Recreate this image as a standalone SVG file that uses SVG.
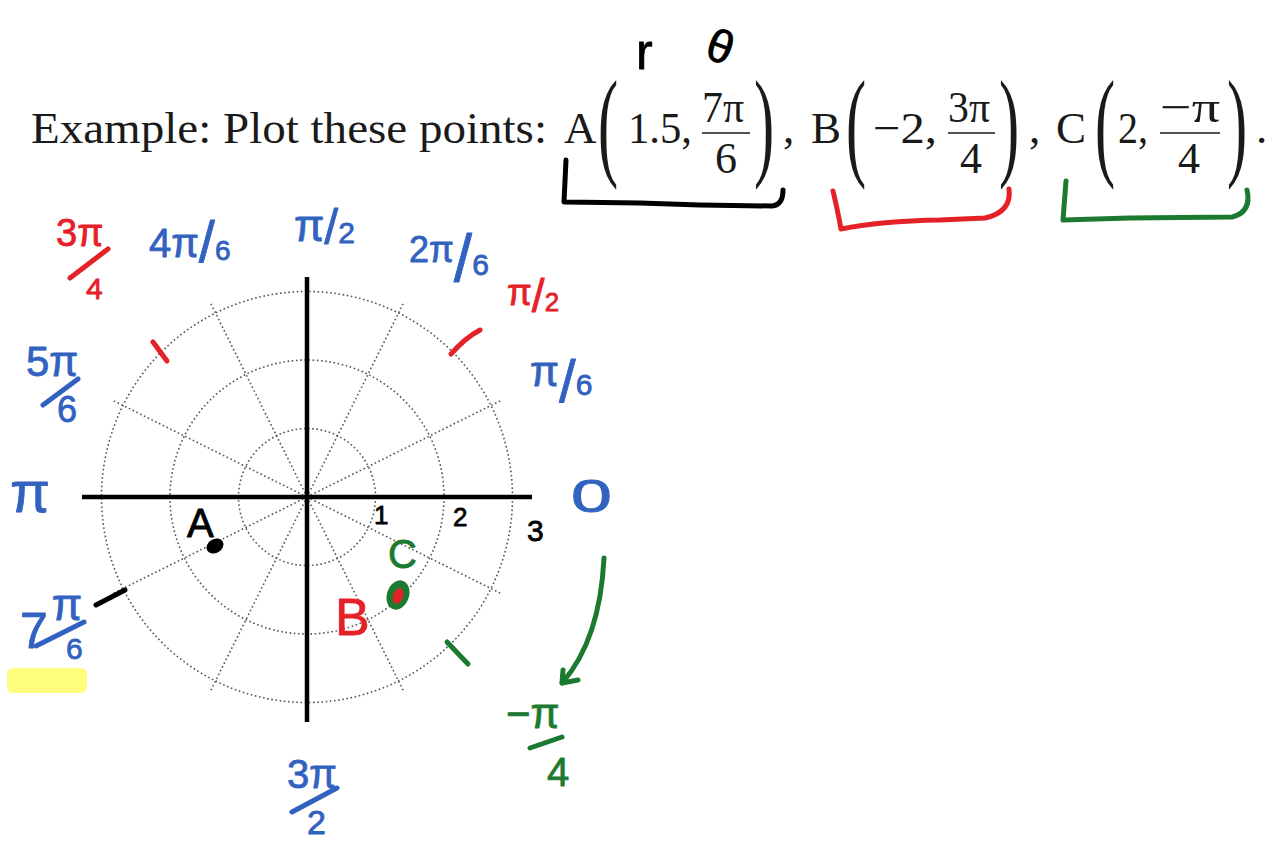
<svg xmlns="http://www.w3.org/2000/svg" width="1277" height="843" viewBox="0 0 1277 843">
<style>
.tx{font-family:"Liberation Serif",serif;fill:#1a1a1a}
.grid{fill:none;stroke:#555;stroke-width:1.6;stroke-dasharray:1.6 2.6}
.axis{stroke:#000;stroke-width:4.5;fill:none}
.hw{font-family:"Liberation Sans",sans-serif;stroke-width:0.8;stroke-linejoin:round}
.blue{fill:#3262c0;stroke:#3262c0}
.red{fill:#e52128;stroke:#e52128}
.green{fill:#1c7a30;stroke:#1c7a30}
.black{fill:#000;stroke:#000}
.pen{fill:none;stroke-width:5;stroke-linecap:round;stroke-linejoin:round}
.pb{stroke:#3262c0}.pr{stroke:#e52128}.pg{stroke:#1c7a30}.pk{stroke:#000}
.bar{stroke:#1a1a1a;stroke-width:1.7}
</style>
<rect width="1277" height="843" fill="#fff"/>

<g id="header">
<text class="tx" x="31" y="143" font-size="45" textLength="516" lengthAdjust="spacingAndGlyphs">Example: Plot these points:</text>
<text class="tx" x="564" y="143" font-size="45">A</text>
<text class="tx" transform="translate(598,164) scale(0.5,1)" font-size="121">(</text>
<text class="tx" x="628" y="143" font-size="45" textLength="64" lengthAdjust="spacingAndGlyphs">1.5,</text>
<text class="tx" x="702" y="122" font-size="44" textLength="42" lengthAdjust="spacingAndGlyphs">7π</text>
<line class="bar" x1="702" y1="133" x2="750" y2="133"/>
<text class="tx" x="715" y="173" font-size="44">6</text>
<text class="tx" transform="translate(754,164) scale(0.5,1)" font-size="121">)</text>
<text class="tx" x="783" y="143" font-size="45">,</text>
<text class="tx" x="811" y="143" font-size="45">B</text>
<text class="tx" transform="translate(846,164) scale(0.5,1)" font-size="121">(</text>
<text class="tx" x="873" y="143" font-size="45" textLength="64" lengthAdjust="spacingAndGlyphs">−2,</text>
<text class="tx" x="948" y="122" font-size="44" textLength="42" lengthAdjust="spacingAndGlyphs">3π</text>
<line class="bar" x1="948" y1="133" x2="995" y2="133"/>
<text class="tx" x="960" y="173" font-size="44">4</text>
<text class="tx" transform="translate(999,164) scale(0.5,1)" font-size="121">)</text>
<text class="tx" x="1029" y="143" font-size="45">,</text>
<text class="tx" x="1056" y="143" font-size="45">C</text>
<text class="tx" transform="translate(1095,164) scale(0.5,1)" font-size="121">(</text>
<text class="tx" x="1118" y="143" font-size="45" textLength="30" lengthAdjust="spacingAndGlyphs">2,</text>
<text class="tx" x="1160" y="122" font-size="44" textLength="60" lengthAdjust="spacingAndGlyphs">−π</text>
<line class="bar" x1="1160" y1="133" x2="1220" y2="133"/>
<text class="tx" x="1178" y="173" font-size="44">4</text>
<text class="tx" transform="translate(1227,164) scale(0.5,1)" font-size="121">)</text>
<text class="tx" x="1256" y="143" font-size="45">.</text>
</g>

<g id="annotations-top">
<text class="hw black" x="636" y="69" font-size="50">r</text>
<text class="hw black" transform="translate(703,57) rotate(20)" font-size="46">θ</text>
<path class="pen pk" d="M566,160 L564,202 L640,203 L700,205 L772,206 Q783,205 783,190"/>
<path class="pen pr" d="M833,191 Q838,212 841,229 Q880,221 940,220 L985,218 Q1012,212 1009,189"/>
<path class="pen pg" d="M1066,181 L1063,220 L1130,218 L1232,217 Q1252,212 1247,190"/>
</g>

<g id="polar-grid">
<circle class="grid" cx="307" cy="497" r="68.5"/>
<circle class="grid" cx="307" cy="497" r="137"/>
<circle class="grid" cx="307" cy="497" r="205.5"/>
<path class="grid" d="M307,497 L502,400 M307,497 L404,302 M307,497 L210,302 M307,497 L112,400 M307,497 L112,594 M307,497 L210,692 M307,497 L404,692 M307,497 L502,594"/>
<line class="axis" x1="82" y1="497" x2="532" y2="497"/>
<line class="axis" x1="307" y1="277" x2="307" y2="722"/>
</g>

<g id="angle-labels">
<text class="hw blue" x="294" y="241" font-size="44">π<tspan font-size="50" dy="3">/</tspan><tspan font-size="30" dy="-1">2</tspan></text>

<text class="hw blue" x="149" y="257" font-size="40">4π<tspan font-size="58" dy="5">/</tspan><tspan font-size="28" dy="-2">6</tspan></text>

<text class="hw blue" x="409" y="262" font-size="36">2π<tspan font-size="66" dy="19">/</tspan><tspan font-size="30" dy="-6">6</tspan></text>

<text class="hw red" x="507" y="305" font-size="36">π<tspan font-size="46" dy="7">/</tspan><tspan font-size="26" dy="-1">2</tspan></text>

<text class="hw blue" x="530" y="386" font-size="42">π<tspan font-size="60" dy="16">/</tspan><tspan font-size="30" dy="-7">6</tspan></text>

<text class="hw blue" transform="translate(571,512) scale(1.6,1)" font-size="46">0</text>

<text class="hw blue" x="26" y="376" font-size="42">5π</text>
<path class="pen pb" d="M43,405 L78,379"/>
<text class="hw blue" x="57" y="422" font-size="36">6</text>

<text class="hw blue" x="10" y="512" font-size="58">π</text>

<rect x="7" y="668" width="80" height="25" rx="6" fill="#fdfd7e"/>
<text class="hw blue" x="20" y="648" font-size="50">7<tspan font-size="44" dx="4" dy="-28">π</tspan></text>
<path class="pen pb" d="M36,646 L84,622"/>
<text class="hw blue" x="66" y="659" font-size="30">6</text>

<text class="hw blue" x="287" y="788" font-size="40">3π</text>
<path class="pen pb" d="M292,812 L337,788"/>
<text class="hw blue" x="307" y="834" font-size="34">2</text>

<text class="hw red" x="56" y="246" font-size="38">3π</text>
<path class="pen pr" d="M70,278 L108,249"/>
<text class="hw red" x="86" y="299" font-size="30">4</text>

<text class="hw green" x="506" y="728" font-size="42">−π</text>
<path class="pen pg" d="M530,748 L562,737"/>
<text class="hw green" x="547" y="786" font-size="40">4</text>
</g>

<g id="ticks">
<path class="pen pr" d="M153,342 L167,361"/>
<path class="pen pr" d="M451,354 Q465,338 480,330"/>
<path class="pen pk" d="M96,605 L125,590"/>
<path class="pen pg" d="M447,642 L468,664"/>
<text class="hw black" x="374" y="524" font-size="26">1</text>
<text class="hw black" x="453" y="526" font-size="26">2</text>
<text class="hw black" x="527" y="541" font-size="30">3</text>
</g>

<g id="point-A">
<ellipse cx="215" cy="546" rx="9" ry="7" transform="rotate(-30 215 546)" fill="#000"/>
<text class="hw black" x="187" y="537" font-size="40">A</text>
</g>

<g id="point-B-C">
<ellipse cx="398" cy="595" rx="11" ry="15" transform="rotate(20 398 595)" fill="#1c7a30"/>
<ellipse cx="398" cy="596" rx="5" ry="8" transform="rotate(20 398 596)" fill="#e52128"/>
<text class="hw green" x="388" y="568" font-size="40">C</text>
<text class="hw red" x="335" y="635" font-size="52">B</text>
</g>

<g id="connectors">
<path class="pen pg" d="M604,558 Q600,640 562,683" stroke-width="3.5"/>
<path class="pen pg" d="M563,670 L562,683 L578,680" stroke-width="3.5"/>
</g>
</svg>
